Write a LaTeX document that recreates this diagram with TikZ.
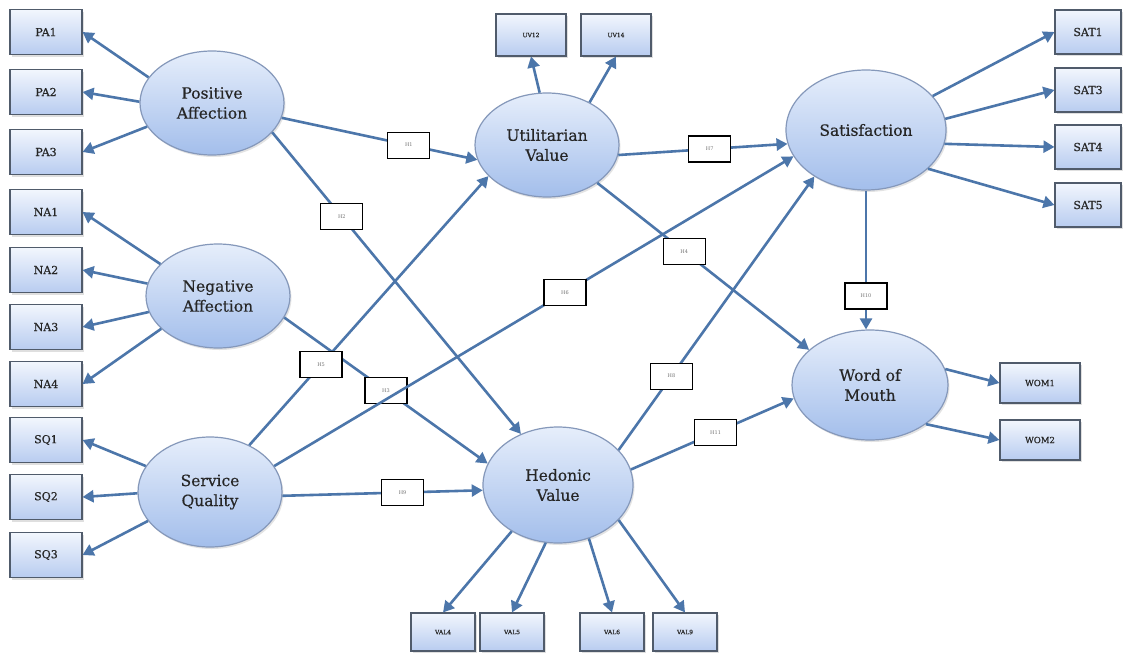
\documentclass[tikz,border=0pt]{standalone}
\usepackage{fontspec}
\setmainfont{DejaVu Serif}
\newfontfamily\heavyserif{DejaVu Serif}[FakeBold=0.45]
\usetikzlibrary{shapes.geometric,arrows.meta,shadows}

\definecolor{arrowblue}{HTML}{4C76AA}
\definecolor{ellTop}{HTML}{E6EEFB}
\definecolor{ellBot}{HTML}{A3BEEB}
\definecolor{ellLine}{HTML}{8598BA}
\definecolor{boxTop}{HTML}{F2F6FD}
\definecolor{boxBot}{HTML}{B8CCF0}
\definecolor{boxLine}{HTML}{505B6B}
\definecolor{txt}{HTML}{262626}

\tikzset{
  construct/.style={ellipse, draw=ellLine, line width=1.2pt,
    top color=ellTop, bottom color=ellBot, inner sep=0pt, align=center,
    font=\heavyserif\fontsize{15.5}{20}\selectfont, text=txt,
    drop shadow={opacity=0.22, shadow xshift=1.5pt, shadow yshift=-2pt}},
  indicator/.style={rectangle, draw=boxLine, line width=1.1pt,
    top color=boxTop, bottom color=boxBot, inner sep=0pt,
    minimum width=72pt, minimum height=45pt,
    font=\heavyserif\fontsize{11}{13}\selectfont, text=txt,
    drop shadow={opacity=0.25, shadow xshift=1.5pt, shadow yshift=-2pt}},
  satbox/.style={indicator, minimum width=66pt, minimum height=44pt},
  smallbox/.style={indicator, minimum width=70pt, minimum height=42pt,
    font=\heavyserif\fontsize{6}{7}\selectfont},
  valbox/.style={indicator, minimum width=64pt, minimum height=38pt,
    font=\heavyserif\fontsize{6}{7}\selectfont},
  wombox/.style={indicator, minimum width=80pt, minimum height=40pt,
    font=\heavyserif\fontsize{8.5}{10}\selectfont},
  hyp/.style={rectangle, draw=black, fill=white, line width=1.2pt,
    minimum width=42pt, minimum height=26pt, inner sep=0pt,
    font=\fontsize{5}{6}\selectfont, text=black!55},
  link/.style={draw=arrowblue, line width=2.6pt,
    -{Triangle[length=11pt,width=12pt]}}
}

\begin{document}
\begin{tikzpicture}[x=1pt,y=-1pt]
  \useasboundingbox[fill=white] (0,0) rectangle (1126,656);

  % latent constructs
  \node[construct, minimum width=144pt, minimum height=104pt] (PA)  at (212,103) {Positive\\Affection};
  \node[construct, minimum width=144pt, minimum height=104pt] (NA)  at (218,296) {Negative\\Affection};
  \node[construct, minimum width=144pt, minimum height=110pt] (SQ)  at (210,492) {Service\\Quality};
  \node[construct, minimum width=144pt, minimum height=104pt] (UV)  at (547,145) {Utilitarian\\Value};
  \node[construct, minimum width=150pt, minimum height=116pt] (HV)  at (558,485) {Hedonic\\Value};
  \node[construct, minimum width=160pt, minimum height=120pt] (SAT) at (866,130) {Satisfaction};
  \node[construct, minimum width=156pt, minimum height=110pt] (WOM) at (870,385) {Word of\\Mouth};

  % observed indicators, left column
  \node[indicator] (PA1) at (46,32)  {PA1};
  \node[indicator] (PA2) at (46,92)  {PA2};
  \node[indicator] (PA3) at (46,152) {PA3};
  \node[indicator] (NA1) at (46,212) {NA1};
  \node[indicator] (NA2) at (46,270) {NA2};
  \node[indicator] (NA3) at (46,327) {NA3};
  \node[indicator] (NA4) at (46,384) {NA4};
  \node[indicator] (SQ1) at (46,440) {SQ1};
  \node[indicator] (SQ2) at (46,497) {SQ2};
  \node[indicator] (SQ3) at (46,555) {SQ3};

  % utilitarian value items
  \node[smallbox] (UV12) at (531,35) {UV12};
  \node[smallbox] (UV14) at (616,35) {UV14};

  % hedonic value items
  \node[valbox] (VAL4) at (443,632) {VAL4};
  \node[valbox] (VAL5) at (512,632) {VAL5};
  \node[valbox] (VAL6) at (612,632) {VAL6};
  \node[valbox] (VAL9) at (685,632) {VAL9};

  % satisfaction items
  \node[satbox] (SAT1) at (1088,32)  {SAT1};
  \node[satbox] (SAT3) at (1088,90)  {SAT3};
  \node[satbox] (SAT4) at (1088,147) {SAT4};
  \node[satbox] (SAT5) at (1088,205) {SAT5};

  % word of mouth items
  \node[wombox] (WOM1) at (1040,383) {WOM1};
  \node[wombox] (WOM2) at (1040,440) {WOM2};

  % measurement arrows
  \draw[link] (PA.158) -- (PA1.east);
  \draw[link] (PA.179) -- (PA2.east);
  \draw[link] (PA.200) -- (PA3.east);
  \draw[link] (NA.151) -- (NA1.east);
  \draw[link] (NA.170) -- (NA2.east);
  \draw[link] (NA.193) -- (NA3.east);
  \draw[link] (NA.210) -- (NA4.east);
  \draw[link] (SQ.158) -- (SQ1.east);
  \draw[link] (SQ.181) -- (SQ2.east);
  \draw[link] (SQ.205) -- (SQ3.east);
  \draw[link] (UV.98) -- (UV12.south);
  \draw[link] (UV.45) -- (UV14.south);
  \draw[link] (HV.225) -- (VAL4.north);
  \draw[link] (HV.258) -- (VAL5.north);
  \draw[link] (HV.300) -- (VAL6.north);
  \draw[link] (HV.330) -- (VAL9.north);
  \draw[link] (SAT.27)  -- (SAT1.west);
  \draw[link] (SAT.8)   -- (SAT3.west);
  \draw[link] (SAT.-10) -- (SAT4.west);
  \draw[link] (SAT.-32) -- (SAT5.west);
  \draw[link] (WOM.12)  -- (WOM1.west);
  \draw[link] (WOM.-35) -- (WOM2.west);

  % structural paths
  \draw[link] (PA.-12) -- node[hyp, pos=0.65] (h1) {H1} (UV.192);
  \draw[link] (PA.-26) -- node[hyp, pos=0.28] (h2) {H2} (HV.126);
  \draw[link] (NA.-18) -- node[hyp, pos=0.5]  (h3) {H3} (HV.163);
  \draw[link] (SQ.50)  -- node[hyp, pos=0.3]  (h5) {H5} (UV.208);
  \draw[link] (SQ.22)  -- node[hyp, pos=0.56] (h6) {H6} (SAT.200);
  \draw[link] (SQ.-3)  -- node[hyp, pos=0.6]  (h9) {H9} (HV.184);
  \draw[link] (UV.-8)  -- node[hyp, pos=0.54] (h7) {H7} (SAT.190);
  \draw[link] (UV.-37) -- node[hyp, pos=0.41] (h4) {H4} (WOM.150);
  \draw[link] (HV.30)  -- node[hyp, pos=0.27] (h8) {H8} (SAT.222);
  \draw[link] (HV.12)  -- node[hyp, pos=0.52] (h11) {H11} (WOM.190);
  \draw[link] (SAT.south) -- node[hyp, pos=0.76] (h10) {H10} (SAT.south |- WOM.north);
\end{tikzpicture}
\end{document}
